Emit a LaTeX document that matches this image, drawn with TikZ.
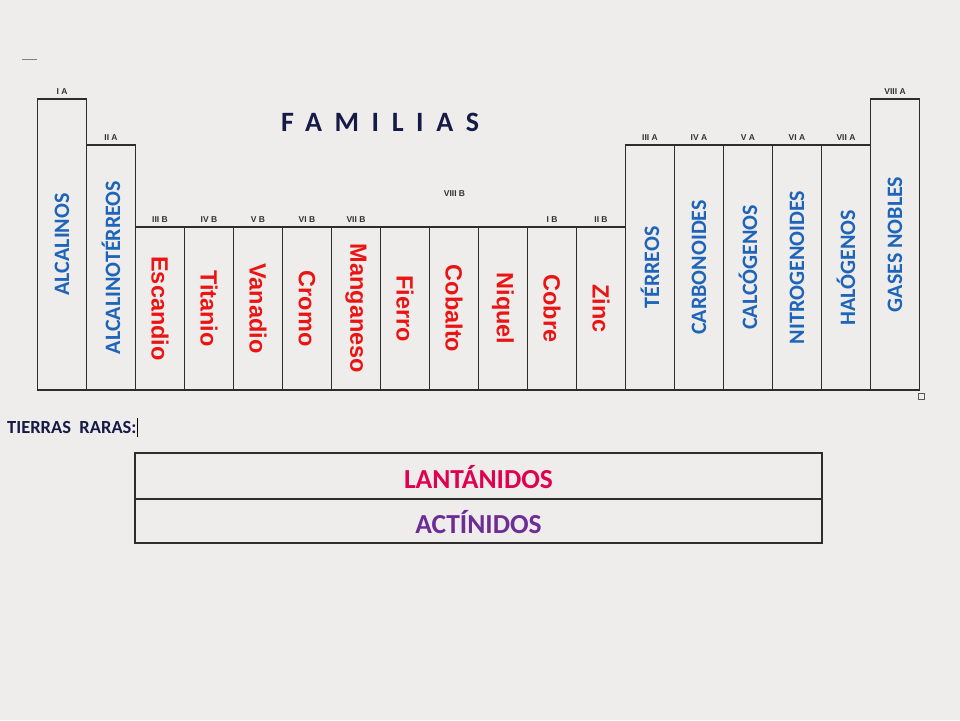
\documentclass[tikz,border=0pt]{standalone}
\usepackage{fontspec}
\setmainfont{Carlito}
\newfontfamily\arialfont{Liberation Sans}
\newfontfamily\famfont[LetterSpace=45]{Carlito}
\definecolor{bgc}{RGB}{238,237,235}
\definecolor{framec}{RGB}{45,45,45}
\definecolor{bluec}{RGB}{30,100,185}
\definecolor{redc}{RGB}{235,20,20}
\definecolor{navyc}{RGB}{22,26,70}
\definecolor{lanc}{RGB}{225,0,80}
\definecolor{actc}{RGB}{110,45,150}
\definecolor{hdrc}{RGB}{50,50,50}
\tikzset{
  colbox/.style={draw=framec, line width=1.4pt},
  bluelab/.style={font=\bfseries\fontsize{22}{22}\selectfont, text=bluec, rotate=90, inner sep=0pt},
  redlab/.style={font=\arialfont\bfseries\fontsize{23.5}{24}\selectfont, text=redc, rotate=-90, inner sep=0pt},
  hdr/.style={font=\arialfont\bfseries\fontsize{8.5}{9}\selectfont, text=hdrc, inner sep=0pt},
  rarelab/.style={font=\bfseries\fontsize{27.5}{28}\selectfont, inner sep=0pt}
}
\begin{document}
\begin{tikzpicture}[x=1pt,y=-1pt]
\fill[bgc] (0,0) rectangle (960,720);
\useasboundingbox (0,0) rectangle (960,720);
% small marks
\draw[gray, line width=0.8pt] (22,59) -- (37,59);
\draw[gray!70!black, line width=0.8pt] (918.5,393.5) rectangle (924.5,399.5);
% columns
\foreach \i/\top/\hd/\lab/\sty in {
  1/99/I A/ALCALINOS/bluelab,
  2/145/II A/ALCALINOTÉRREOS/bluelab,
  3/227/III B/Escandio/redlab,
  4/227/IV B/Titanio/redlab,
  5/227/V B/Vanadio/redlab,
  6/227/VI B/Cromo/redlab,
  7/227/VII B/Manganeso/redlab,
  8/227//Fierro/redlab,
  9/227//Cobalto/redlab,
  10/227//Niquel/redlab,
  11/227/I B/Cobre/redlab,
  12/227/II B/Zinc/redlab,
  13/145/III A/TÉRREOS/bluelab,
  14/145/IV A/CARBONOIDES/bluelab,
  15/145/V A/CALCÓGENOS/bluelab,
  16/145/VI A/NITROGENOIDES/bluelab,
  17/145/VII A/HALÓGENOS/bluelab,
  18/99/VIII A/GASES NOBLES/bluelab}{
  \pgfmathsetmacro\xl{37.5+49*(\i-1)}
  \pgfmathsetmacro\xr{\xl+49}
  \pgfmathsetmacro\xc{\xl+24.5}
  \pgfmathsetmacro\yc{(\top+390)/2}
  \pgfmathsetmacro\yh{\top-7}
  \draw[colbox] (\xl,\top) rectangle (\xr,390);
  \node[\sty] (c\i) at (\xc,\yc) {\lab};
  \node[hdr] (h\i) at (\xc,\yh) {\hd};
}
\node[hdr] (h8b) at (454.5,193.5) {VIII B};
% title
\node[anchor=west, inner sep=0pt, font=\famfont\bfseries\fontsize{28}{28}\selectfont, text=navyc] (fam) at (281,122) {FAMILIAS};
% tierras raras
\node[anchor=west, inner sep=0pt, font=\bfseries\fontsize{18.5}{18.5}\selectfont, text=navyc] (tr) at (7,427) {TIERRAS\ \ RARAS:};
\coordinate (cur1) at (137.5,418);
\coordinate (cur2) at (137.5,437);
\draw[black, line width=1.5pt] (cur1) -- (cur2);
% rare earth boxes
\draw[colbox] (135,453) rectangle (822,499);
\draw[colbox] (135,499) rectangle (822,543);
\node[rarelab, text=lanc] (lan) at (478.5,477) {LANTÁNIDOS};
\node[rarelab, text=actc] (act) at (478.5,522) {ACTÍNIDOS};
\end{tikzpicture}
\end{document}
